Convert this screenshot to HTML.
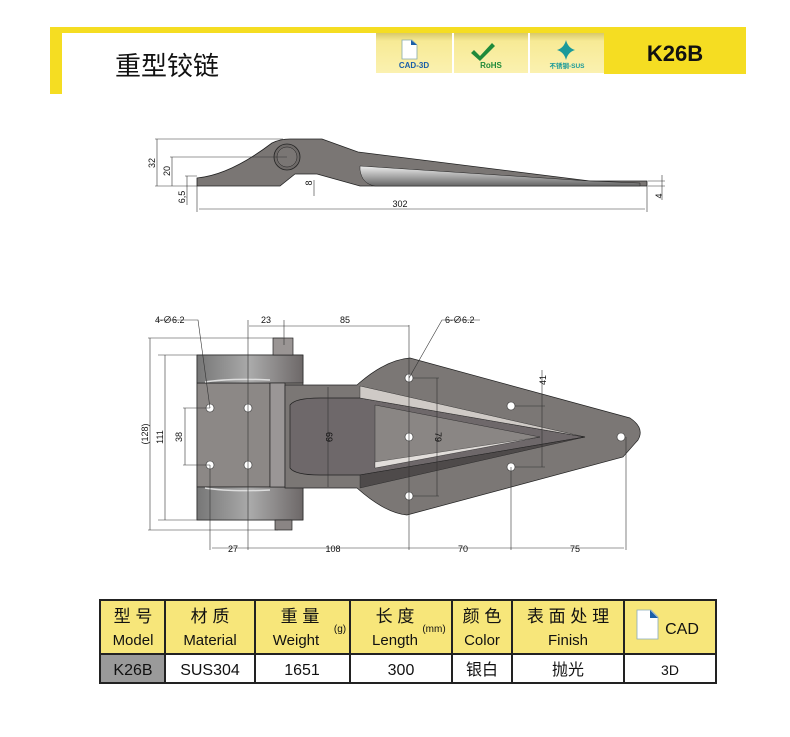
<!DOCTYPE html>
<html><head><meta charset="utf-8"><style>
body{margin:0;background:#fff;width:790px;height:732px;overflow:hidden;font-family:"Liberation Sans","Noto Sans CJK SC",sans-serif}
</style></head><body>
<svg width="790" height="732" viewBox="0 0 790 732" xmlns="http://www.w3.org/2000/svg" font-family="Liberation Sans, Noto Sans CJK SC, sans-serif">
<defs>
<linearGradient id="ic" x1="0" y1="0" x2="0" y2="1"><stop offset="0" stop-color="#d8c96a"/><stop offset="0.2" stop-color="#f7ea95"/><stop offset="1" stop-color="#fbf1b0"/></linearGradient>
<linearGradient id="gr" x1="0" y1="0" x2="0" y2="1"><stop offset="0" stop-color="#eee"/><stop offset="1" stop-color="#666"/></linearGradient>
<linearGradient id="kn" x1="0" y1="0" x2="1" y2="0"><stop offset="0" stop-color="#777"/><stop offset="0.5" stop-color="#aaa"/><stop offset="1" stop-color="#6d6868"/></linearGradient>
</defs>
<!-- header -->
<rect x="50" y="27" width="696" height="6" fill="#f5dd22"/>
<rect x="50" y="27" width="12" height="67" fill="#f5dd22"/>
<rect x="604" y="27" width="142" height="47" fill="#f5dd22"/>
<text x="675" y="61" font-size="22" text-anchor="middle" font-weight="bold" fill="#111">K26B</text>
<text x="115" y="75" font-size="26" fill="#111">重型铰链</text>
<rect x="376" y="33" width="76" height="40" fill="url(#ic)"/>
<rect x="454" y="33" width="74" height="40" fill="url(#ic)"/>
<rect x="530" y="33" width="74" height="40" fill="url(#ic)"/>
<path d="M402 40h10l5 5v14h-15z" fill="#fff" stroke="#8aa" stroke-width="0.8"/><path d="M411 40l6 5h-6z" fill="#1a5ea8"/>
<text x="414" y="68" font-size="8" font-weight="bold" text-anchor="middle" fill="#1a5ea8">CAD-3D</text>
<path d="M474 50l6 6 12-13 3 3-15 15-9-8z" fill="#1f8a3a"/>
<text x="491" y="68" font-size="8" font-weight="bold" text-anchor="middle" fill="#1f8a3a">RoHS</text>
<path d="M566 40q2 8 9 10q-7 2-9 10q-2-8-9-10q7-2 9-10z" fill="#1a9a9a"/>
<text x="567" y="68" font-size="6.5" font-weight="bold" text-anchor="middle" fill="#1a9a9a">不锈钢-SUS</text>

<!-- side view -->
<g stroke="#222" stroke-width="0.8">
<path d="M197 186 L197 178 Q230 175 272 143 Q280 139 290 139 L322 139 L358 152 L590 181 L647 181 L647 186 L360 186 L317 174 L295 174 L280 186 Z" fill="#7a7674"/>
<path d="M360 170 Q362 184 375 186 L640 186 L640 183 L590 181 L360 166 Z" fill="url(#gr)" stroke-width="0.5"/>
<circle cx="287" cy="157" r="13" fill="#6e6a68"/>
<circle cx="287" cy="157" r="10" fill="#7a7674" stroke-width="0.5"/>
</g>
<g stroke="#333" stroke-width="0.6" fill="none">
<path d="M155 139H283M155 186H197M170 157H287M185 176H197"/>
<path d="M157 139V186M172 157V186M187 176V205"/>
<path d="M314 180V196"/>
<path d="M197 186V212M647 186V212M199 209H645"/>
<path d="M648 181H665M648 186H665M662 175V200"/>
</g>
<g font-size="9" fill="#111">
<text transform="translate(155,163) rotate(-90)" text-anchor="middle">32</text>
<text transform="translate(170,171) rotate(-90)" text-anchor="middle">20</text>
<text transform="translate(185,197) rotate(-90)" text-anchor="middle">6,5</text>
<text transform="translate(312,183) rotate(-90)" text-anchor="middle">8</text>
<text x="400" y="207" text-anchor="middle">302</text>
<text transform="translate(662,196) rotate(-90)" text-anchor="middle">4</text>
</g>

<!-- plan view -->
<g stroke="#222" stroke-width="0.7">
<rect x="197" y="355" width="106" height="165" fill="#878280"/>
<rect x="197" y="383" width="73" height="104" fill="#8c8886"/>
<rect x="197" y="355" width="106" height="28" fill="url(#kn)"/>
<rect x="197" y="487" width="106" height="33" fill="url(#kn)"/>
<rect x="273" y="338" width="20" height="17" fill="#9a9594"/>
<rect x="275" y="520" width="17" height="10" fill="#8a8584"/>
<rect x="270" y="383" width="15" height="104" fill="#9a9696"/>
<path d="M285 385 H357 Q385 360 410 358 L630 418 Q645 428 638 440 L623 457 L407 515 Q385 513 357 488 H285 Z" fill="#7b7775"/>
<path d="M290 405 Q295 398 320 398 L360 398 L585 437 L360 475 L320 475 Q295 475 290 468 Z" fill="#6e686a"/>
<path d="M360 386 L585 437 L360 398 Z" fill="#cfcac6" stroke-width="0.4"/>
<path d="M360 488 L585 437 L360 475 Z" fill="#4e4a4a" stroke-width="0.4"/>
<path d="M375 405 L540 437 L375 468 Z" fill="#8a8684" stroke-width="0.4"/>
<path d="M375 462 L540 437 L375 468 Z" fill="#e2dedb" stroke-width="0.3"/>
<path d="M205 382 Q230 378 270 380 M205 488 Q230 492 270 490" fill="none" stroke="#ddd" stroke-width="1.5"/>
</g>
<g fill="#fff" stroke="#333" stroke-width="0.6">
<circle cx="210" cy="408" r="4"/><circle cx="248" cy="408" r="4"/><circle cx="210" cy="465" r="4"/><circle cx="248" cy="465" r="4"/>
<circle cx="409" cy="378" r="4"/><circle cx="409" cy="437" r="4"/><circle cx="409" cy="496" r="4"/>
<circle cx="511" cy="406" r="4"/><circle cx="511" cy="467" r="4"/><circle cx="621" cy="437" r="4"/>
</g>
<g stroke="#333" stroke-width="0.6" fill="none">
<path d="M148 338H283M158 355H197M158 520H197M148 530H278"/>
<path d="M150 338V530M165 355V520"/>
<path d="M183 408H210M183 465H210M185 408V465"/>
<path d="M210 465V550M248 408V550M409 325V550M511 467V550M626 437V550M212 548H624"/>
<path d="M248 320V408M284 320V345M249 326H409"/>
<path d="M157 320H198L210 408M480 320H442L409 378"/>
<path d="M413 378H439M413 496H439M437 378V496"/>
<path d="M515 406H545M515 467H545M542 370V467"/>
<path d="M328 387V487"/>
</g>
<g font-size="9" fill="#111">
<text x="155" y="323">4-∅6.2</text>
<text x="445" y="323">6-∅6.2</text>
<text x="266" y="323" text-anchor="middle">23</text>
<text x="345" y="323" text-anchor="middle">85</text>
<text transform="translate(148,434) rotate(-90)" text-anchor="middle">(128)</text>
<text transform="translate(163,437) rotate(-90)" text-anchor="middle">111</text>
<text transform="translate(182,437) rotate(-90)" text-anchor="middle">38</text>
<text transform="translate(326,437) rotate(90)" text-anchor="middle">69</text>
<text transform="translate(435,437) rotate(90)" text-anchor="middle">79</text>
<text transform="translate(546,380) rotate(-90)" text-anchor="middle">41</text>
<text x="233" y="552" text-anchor="middle">27</text>
<text x="333" y="552" text-anchor="middle">108</text>
<text x="463" y="552" text-anchor="middle">70</text>
<text x="575" y="552" text-anchor="middle">75</text>
</g>

<!-- table -->
<rect x="100" y="600" width="616" height="54" fill="#f7e67a"/>
<rect x="100" y="654" width="65" height="29" fill="#9a9a9a"/>
<g stroke="#222" stroke-width="2" fill="none">
<rect x="100" y="600" width="616" height="83"/>
<path d="M100 654H716M165 600V683M255 600V683M350 600V683M452 600V683M512 600V683M624 600V683"/>
</g>
<g font-size="17" fill="#111" text-anchor="middle">
<text x="133" y="622">型 号</text><text x="210" y="622">材 质</text><text x="300" y="622">重 量</text><text x="395" y="622">长 度</text><text x="482" y="622">颜 色</text><text x="568" y="622">表 面 处 理</text>
<text x="133" y="645" font-size="15">Model</text><text x="210" y="645" font-size="15">Material</text><text x="296" y="645" font-size="15">Weight</text><text x="395" y="645" font-size="15">Length</text><text x="482" y="645" font-size="15">Color</text><text x="568" y="645" font-size="15">Finish</text>
<text x="340" y="632" font-size="10">(g)</text><text x="434" y="632" font-size="10">(mm)</text>
<text x="133" y="675" font-size="16">K26B</text><text x="210" y="675" font-size="16">SUS304</text><text x="302" y="675" font-size="16">1651</text><text x="401" y="675" font-size="16">300</text><text x="482" y="675" font-size="16">银白</text><text x="568" y="675" font-size="16">抛光</text><text x="670" y="675" font-size="14">3D</text>
<text x="682" y="634" font-size="16">CAD</text>
</g>
<rect x="624" y="601" width="91" height="52" fill="none"/>
<path d="M637 610h14l7 7v22h-21z" fill="#fff" stroke="#8ab" stroke-width="0.8"/><path d="M650 610l8 8h-8z" fill="#1a5ea8"/>
</svg>
</body></html>
